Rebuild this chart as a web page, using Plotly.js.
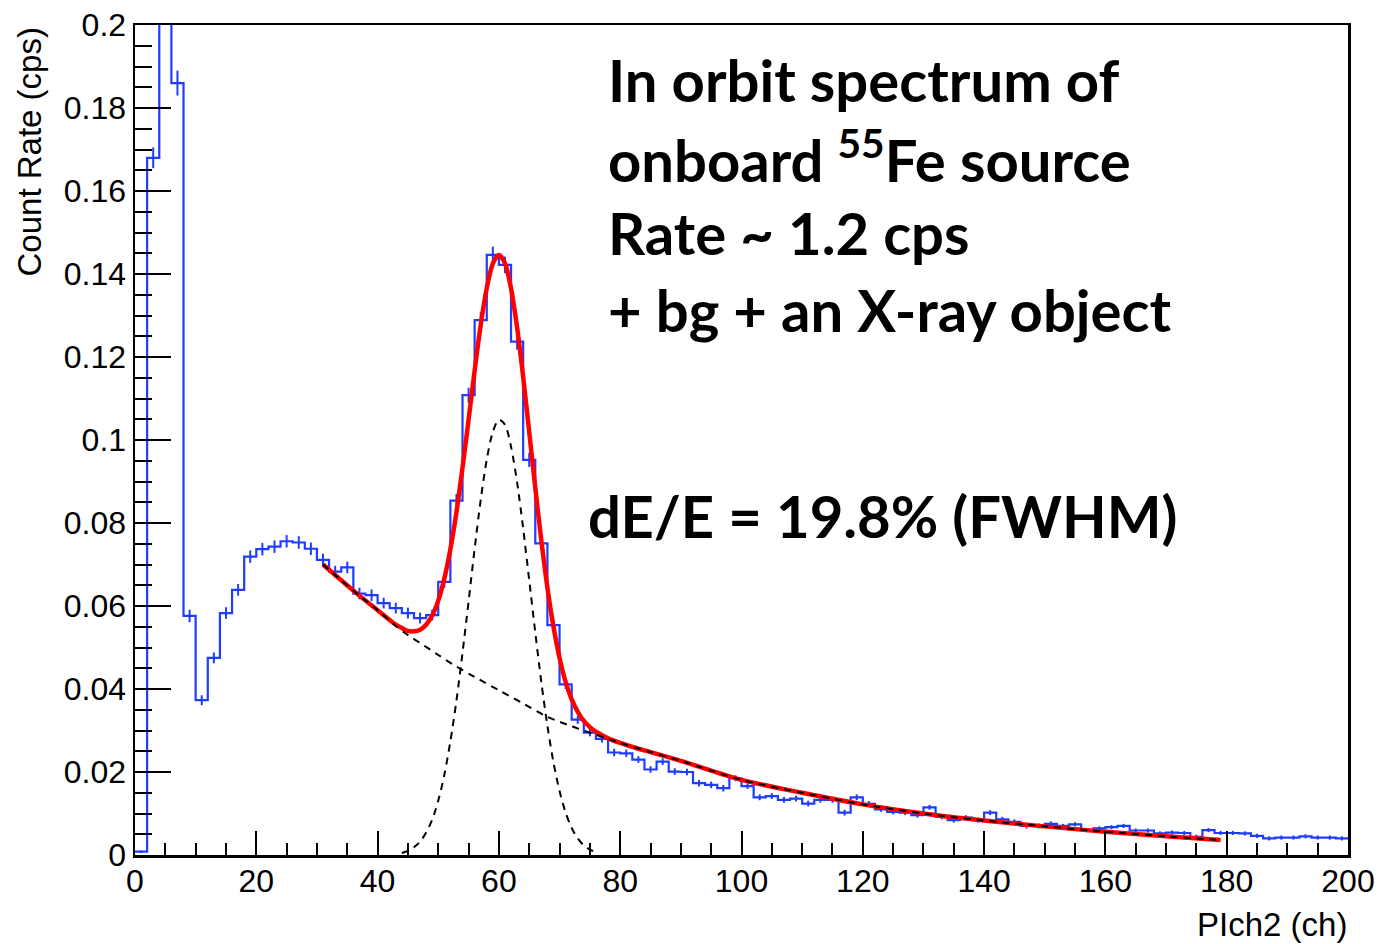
<!DOCTYPE html>
<html>
<head>
<meta charset="utf-8">
<script src="https://cdn.plot.ly/plotly-3.0.1.min.js"></script>
<style>html,body{margin:0;padding:0;background:#fff;}#chart{width:1380px;height:944px;}</style>
</head>
<body>
<div id="chart"></div>
<script>
// ---- data ----
const BIN_WIDTH = 2; // channels per bin, histogram covers 0..200
const histValues = [
  0.0008, 0.168, 0.240, 0.186, 0.0576, 0.0373, 0.0475, 0.0583, 0.0639, 0.0719,
  0.0737, 0.0743, 0.0756, 0.0753, 0.0738, 0.0711, 0.0683, 0.0693, 0.0630, 0.0626,
  0.0607, 0.0595, 0.0583, 0.0571, 0.0578, 0.0658, 0.0854, 0.1108, 0.1289, 0.1446,
  0.1422, 0.1237, 0.0952, 0.0751, 0.0554, 0.0411, 0.0326, 0.0295, 0.0280, 0.0247,
  0.0245, 0.0230, 0.0206, 0.0225, 0.0201, 0.0200, 0.0173, 0.0169, 0.0161, 0.0185,
  0.0166, 0.0139, 0.0142, 0.0133, 0.0136, 0.0124, 0.0133, 0.0133, 0.0102, 0.0139,
  0.0123, 0.0110, 0.0104, 0.0102, 0.0096, 0.0115, 0.0092, 0.0084, 0.0090, 0.0084,
  0.0102, 0.0086, 0.0080, 0.0070, 0.0070, 0.0075, 0.0070, 0.0074, 0.0060, 0.0064,
  0.0067, 0.0070, 0.0059, 0.0059, 0.0052, 0.0054, 0.0053, 0.0044, 0.0060, 0.0053,
  0.0053, 0.0052, 0.0046, 0.0040, 0.0042, 0.0042, 0.0045, 0.0042, 0.0042, 0.0040
];
const histErrors = [
  0.0003, 0.0025, 0.0030, 0.0030, 0.0015, 0.0012, 0.0013, 0.0014, 0.0014, 0.0015,
  0.0015, 0.0015, 0.0015, 0.0015, 0.0015, 0.0015, 0.0014, 0.0014, 0.0014, 0.0014,
  0.0013, 0.0013, 0.0013, 0.0013, 0.0013, 0.0014, 0.0016, 0.0018, 0.0019, 0.0020,
  0.0020, 0.0019, 0.0017, 0.0015, 0.0013, 0.0011, 0.0010, 0.0009, 0.0009, 0.0009,
  0.0009, 0.0008, 0.0008, 0.0008, 0.0008, 0.0008, 0.0008, 0.0008, 0.0008, 0.0007,
  0.0007, 0.0007, 0.0007, 0.0007, 0.0007, 0.0007, 0.0007, 0.0007, 0.0007, 0.0007,
  0.0007, 0.0006, 0.0006, 0.0006, 0.0006, 0.0006, 0.0006, 0.0006, 0.0006, 0.0006,
  0.0006, 0.0006, 0.0006, 0.0006, 0.0006, 0.0006, 0.0005, 0.0005, 0.0005, 0.0005,
  0.0005, 0.0005, 0.0005, 0.0005, 0.0005, 0.0005, 0.0005, 0.0005, 0.0005, 0.0005,
  0.0005, 0.0005, 0.0005, 0.0005, 0.0005, 0.0005, 0.0005, 0.0005, 0.0005, 0.0005
];

// total fit (red)
const fitX = [31, 34, 37, 40, 43, 44, 45, 46, 47, 48, 49, 50, 51, 52, 53, 54, 55, 56, 57, 58, 59, 60,
  61, 62, 63, 64, 65, 66, 67, 68, 69, 70, 71, 72, 73, 74, 75, 76, 78, 80, 83, 85, 90, 100, 110, 120,
  130, 140, 150, 160, 170, 179];
const fitY = [0.0700, 0.0662, 0.0625, 0.0590, 0.0555, 0.0547, 0.0540, 0.0539, 0.0543, 0.0555, 0.0577,
  0.0613, 0.0666, 0.0737, 0.0826, 0.0933, 0.1049, 0.1167, 0.1277, 0.1366, 0.1425, 0.1446,
  0.1426, 0.1365, 0.1271, 0.1152, 0.1019, 0.0885, 0.0757, 0.0644, 0.0550, 0.0475, 0.0417,
  0.0375, 0.0345, 0.0323, 0.0308, 0.0297, 0.0281, 0.0270, 0.0256, 0.0248, 0.0227, 0.0181,
  0.0150, 0.0122, 0.0100, 0.0083, 0.0069, 0.0056, 0.0045, 0.0036];

// background component (black dashed)
const bgX = [31, 34, 37, 40, 43, 45, 47, 50, 53, 56, 60, 64, 68, 72, 76, 80, 85, 90, 100, 110, 120,
  130, 140, 150, 160, 170, 179];
const bgY = [0.0700, 0.0662, 0.0625, 0.0590, 0.0552, 0.0530, 0.0511, 0.0482, 0.0454, 0.0429, 0.0397,
  0.0365, 0.0333, 0.0310, 0.0290, 0.0270, 0.0248, 0.0227, 0.0181, 0.0150, 0.0122, 0.0100,
  0.0083, 0.0069, 0.0056, 0.0045, 0.0036];

// gaussian line component (black dashed)
const gausX = [44, 45, 46, 47, 48, 49, 50, 51, 52, 53, 54, 55, 56, 57, 58, 59, 60, 61, 62, 63, 64,
  65, 66, 67, 68, 69, 70, 71, 72, 73, 74, 75, 76];
const gausY = [0.0005, 0.0010, 0.0019, 0.0032, 0.0054, 0.0085, 0.0131, 0.0193, 0.0274, 0.0372, 0.0487,
  0.0611, 0.0738, 0.0856, 0.0953, 0.1020, 0.1049, 0.1037, 0.0984, 0.0898, 0.0787, 0.0662,
  0.0536, 0.0416, 0.0311, 0.0223, 0.0154, 0.0102, 0.0065, 0.0040, 0.0023, 0.0013, 0.0007];

const yTickVals = [0, 0.02, 0.04, 0.06, 0.08, 0.1, 0.12, 0.14, 0.16, 0.18, 0.2];
const yTickText = ['0', '0.02', '0.04', '0.06', '0.08', '0.1', '0.12', '0.14', '0.16', '0.18', '0.2'];
const xTickVals = [0, 20, 40, 60, 80, 100, 120, 140, 160, 180, 200];
const xTickText = ['0', '20', '40', '60', '80', '100', '120', '140', '160', '180', '200'];

const textLines = ['In orbit spectrum of', 'onboard <sup>55</sup>Fe source', 'Rate ~ 1.2 cps', '+ bg + an X-ray object'];
const resText = 'dE/E = 19.8% (FWHM)';
const yTitle = 'Count Rate (cps)';
const xTitle = 'PIch2 (ch)';

// ---- build traces ----
const binLow = histValues.map((v, i) => i * BIN_WIDTH);
const binCtr = histValues.map((v, i) => i * BIN_WIDTH + BIN_WIDTH / 2);
const stepX = binLow.concat([histValues.length * BIN_WIDTH]);
const stepY = histValues.concat([histValues[histValues.length - 1]]);

const BLUE = '#1f3cff';
const traces = [
  { x: stepX, y: stepY, type: 'scatter', mode: 'lines', line: { shape: 'hv', color: BLUE, width: 2.2 }, hoverinfo: 'skip' },
  { x: binCtr, y: histValues, type: 'scatter', mode: 'markers', marker: { size: 1, color: BLUE, opacity: 0 },
    error_y: { type: 'data', array: histErrors, visible: true, color: BLUE, thickness: 2, width: 0 } },
  { x: fitX, y: fitY, type: 'scatter', mode: 'lines', line: { color: '#ff0000', width: 4.5, shape: 'spline', smoothing: 0.8 } },
  { x: bgX, y: bgY, type: 'scatter', mode: 'lines', line: { color: '#000', width: 2, dash: '7px,6px', shape: 'spline', smoothing: 0.8 } },
  { x: gausX, y: gausY, type: 'scatter', mode: 'lines', line: { color: '#000', width: 2, dash: '7px,6px', shape: 'spline', smoothing: 0.8 } }
];

// pixel helpers for layout placement
const L = 135, R = 1348, T = 25, B = 855;
const px = v => (v - L) / (R - L);
const py = v => (B - v) / (B - T);

const bigFont = { family: 'Lato, "Open Sans", sans-serif', size: 58, color: '#000', weight: 'bold' };
const annotations = [];
const lineCenters = [79, 156, 232, 309];
textLines.forEach((t, i) => {
  annotations.push({ xref: 'paper', yref: 'paper', x: px(606), y: py(lineCenters[i]), xanchor: 'left', yanchor: 'middle',
    text: '<b>' + t + '</b>', showarrow: false, font: bigFont, align: 'left' });
});
annotations.push({ xref: 'paper', yref: 'paper', x: px(586), y: py(515), xanchor: 'left', yanchor: 'middle',
  text: '<b>' + resText + '</b>', showarrow: false, font: bigFont, align: 'left' });
annotations.push({ xref: 'paper', yref: 'paper', x: px(29), y: py(26), xanchor: 'center', yanchor: 'top',
  text: yTitle, textangle: -90, showarrow: false, font: { family: '"Liberation Sans", Arial, sans-serif', size: 33, color: '#000' } });
annotations.push({ xref: 'paper', yref: 'paper', x: px(1349), y: py(924), xanchor: 'right', yanchor: 'middle',
  text: xTitle, showarrow: false, font: { family: '"Liberation Sans", Arial, sans-serif', size: 33, color: '#000' } });

const tickFont = { family: '"Liberation Sans", Arial, sans-serif', size: 32, color: '#000' };
const layout = {
  width: 1380, height: 944,
  margin: { l: L, r: 1380 - R, t: T, b: 944 - B, pad: 0 },
  paper_bgcolor: '#fff', plot_bgcolor: '#fff',
  showlegend: false,
  xaxis: {
    range: [0, 200], tickvals: xTickVals, ticktext: xTickText, ticks: 'inside', ticklen: 24, tickwidth: 2, tickcolor: '#000',
    showgrid: false, zeroline: false, showline: true, linecolor: '#000', linewidth: 2.5, mirror: true,
    tickfont: tickFont, ticklabelstandoff: -4,
    minor: { dtick: 5, tick0: 0, ticks: 'inside', ticklen: 12, tickwidth: 2, tickcolor: '#000', showgrid: false }
  },
  yaxis: {
    range: [0, 0.2], tickvals: yTickVals, ticktext: yTickText, ticks: 'inside', ticklen: 36, tickwidth: 2, tickcolor: '#000',
    showgrid: false, zeroline: false, showline: true, linecolor: '#000', linewidth: 2.5, mirror: true,
    tickfont: tickFont,
    minor: { dtick: 0.005, tick0: 0, ticks: 'inside', ticklen: 17, tickwidth: 2, tickcolor: '#000', showgrid: false }
  },
  annotations: annotations
};

Plotly.newPlot('chart', traces, layout, { staticPlot: true, displayModeBar: false });
</script>
</body>
</html>
